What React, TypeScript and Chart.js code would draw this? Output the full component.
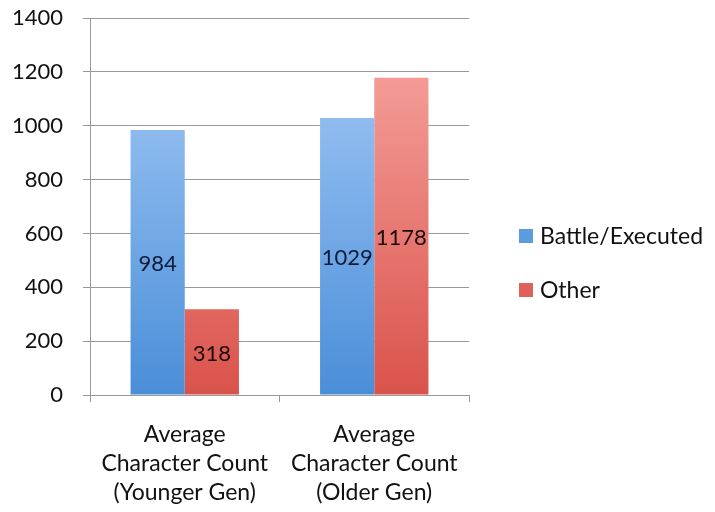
import React, { useEffect, useRef } from "react";
import { Chart, registerables } from "chart.js";

Chart.register(...registerables);

const categories: string[][] = [
  ["Average", "Character Count", "(Younger Gen)"],
  ["Average", "Character Count", "(Older Gen)"],
];
const seriesNames = ["Battle/Executed", "Other"];
const battleValues = [984, 1029];
const otherValues = [318, 1178];
const gradTop = ["#a9cdf8", "#f9a9a4"];
const gradBottom = ["#4a8ed8", "#d9534b"];
const labelColors = ["#0d1a3a", "#1a0a0a"];
const legendColors = ["#5b9be0", "#e0605a"];

const FONT = "Lato, 'Open Sans', sans-serif";

function makeGradient(chart: any, idx: number) {
  const area = chart.chartArea;
  if (!area) return gradBottom[idx];
  const g = chart.ctx.createLinearGradient(0, area.top, 0, area.bottom);
  g.addColorStop(0, gradTop[idx]);
  g.addColorStop(1, gradBottom[idx]);
  return g;
}

const valueLabels = {
  id: "valueLabels",
  afterDatasetsDraw(chart: any) {
    const ctx = chart.ctx;
    ctx.save();
    ctx.font = `22px ${FONT}`;
    ctx.textAlign = "center";
    ctx.textBaseline = "middle";
    chart.data.datasets.forEach((ds: any, di: number) => {
      const meta = chart.getDatasetMeta(di);
      meta.data.forEach((el: any, i: number) => {
        ctx.fillStyle = labelColors[di];
        ctx.fillText(String(ds.data[i]), el.x, (el.y + el.base) / 2 + 2);
      });
    });
    ctx.restore();
  },
};

const customLegend = {
  id: "customLegend",
  afterDraw(chart: any) {
    const ctx = chart.ctx;
    ctx.save();
    ctx.font = `23px ${FONT}`;
    ctx.textBaseline = "middle";
    ctx.textAlign = "left";
    const x0 = 519;
    const ys = [236, 290];
    seriesNames.forEach((name, i) => {
      ctx.fillStyle = legendColors[i];
      ctx.fillRect(x0, ys[i] - 7, 14, 14);
      ctx.fillStyle = "#111";
      ctx.fillText(name, x0 + 21, ys[i] + 1);
    });
    ctx.restore();
  },
};

export default function App() {
  const ref = useRef<HTMLCanvasElement>(null);
  useEffect(() => {
    document.body.style.margin = "0";
    const chart = new Chart(ref.current!, {
      type: "bar",
      data: {
        labels: categories,
        datasets: [
          {
            label: seriesNames[0],
            data: battleValues,
            backgroundColor: (c: any) => makeGradient(c.chart, 0),
            barPercentage: 1,
            categoryPercentage: 0.572,
          },
          {
            label: seriesNames[1],
            data: otherValues,
            backgroundColor: (c: any) => makeGradient(c.chart, 1),
            barPercentage: 1,
            categoryPercentage: 0.572,
          },
        ],
      },
      options: {
        animation: false,
        responsive: false,
        layout: { padding: { top: 18, right: 246, left: 12, bottom: 0 } },
        plugins: {
          legend: { display: false },
          tooltip: { enabled: false },
        },
        scales: {
          x: {
            afterFit: (s: any) => {
              s.height = 117;
              s.paddingLeft = 0;
              s.paddingRight = 0;
            },
            grid: {
              display: true,
              drawOnChartArea: false,
              drawTicks: true,
              tickLength: 7,
              offset: true,
              color: "#999999",
            },
            border: { color: "#999999" },
            ticks: {
              color: "#111",
              font: { family: FONT, size: 23, lineHeight: 1.27 },
              padding: 18,
              maxRotation: 0,
            },
          },
          y: {
            min: 0,
            max: 1400,
            afterFit: (s: any) => {
              s.width = 78;
              s.paddingTop = 0;
              s.paddingBottom = 0;
            },
            ticks: {
              stepSize: 200,
              color: "#111",
              font: { family: FONT, size: 22 },
              padding: 20,
              callback: (v: any) => String(v),
            },
            grid: { color: "#999999", tickLength: 7 },
            border: { color: "#999999" },
          },
        },
      },
      plugins: [valueLabels, customLegend],
    });
    return () => chart.destroy();
  }, []);
  return <canvas ref={ref} width={715} height={512} />;
}
